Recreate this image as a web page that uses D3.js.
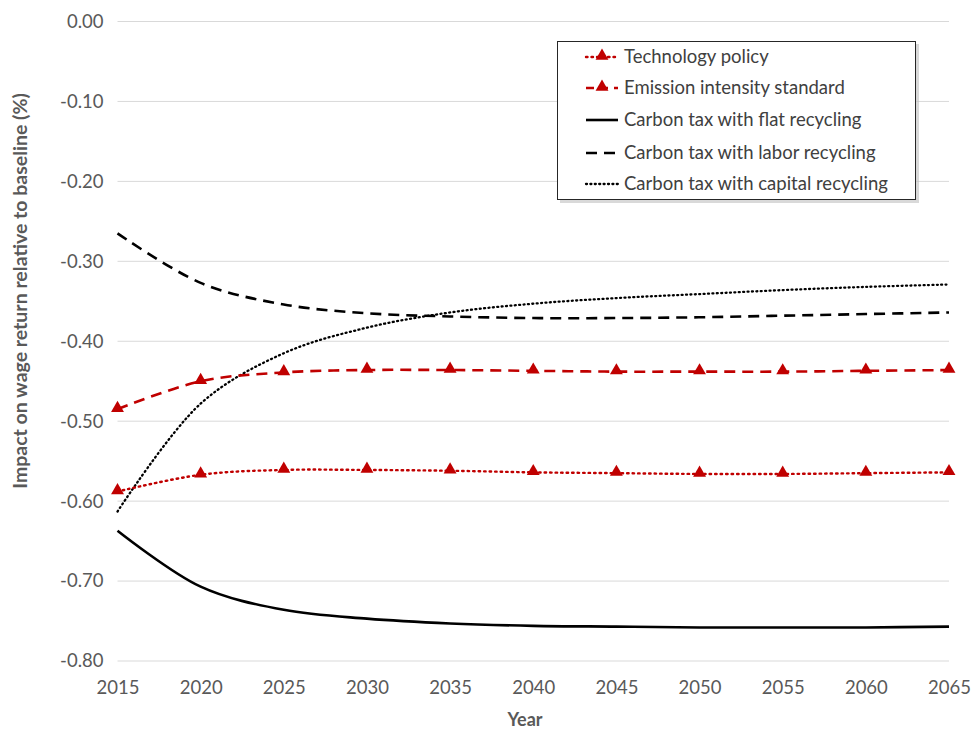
<!DOCTYPE html>
<html><head><meta charset="utf-8">
<script src="https://cdn.jsdelivr.net/npm/d3@7/dist/d3.min.js"></script>
<style>body{margin:0;background:#fff}</style>
</head><body>
<svg id="chart" width="972" height="730"></svg>
<script>
const years = [2015,2020,2025,2030,2035,2040,2045,2050,2055,2060,2065];
const techPolicy = [-0.588,-0.567,-0.561,-0.561,-0.562,-0.564,-0.565,-0.566,-0.566,-0.565,-0.564];
const emissionStd = [-0.485,-0.450,-0.439,-0.436,-0.436,-0.437,-0.438,-0.438,-0.438,-0.437,-0.436];
const flatRecycling = [-0.637,-0.707,-0.736,-0.747,-0.753,-0.756,-0.757,-0.758,-0.758,-0.758,-0.757];
const laborRecycling = [-0.265,-0.327,-0.354,-0.365,-0.369,-0.371,-0.371,-0.370,-0.368,-0.366,-0.364];
const capitalRecycling = [-0.613,-0.478,-0.415,-0.383,-0.364,-0.353,-0.346,-0.341,-0.336,-0.332,-0.329];
const yTicks = [0,-0.1,-0.2,-0.3,-0.4,-0.5,-0.6,-0.7,-0.8];
const seriesNames = ["Technology policy","Emission intensity standard","Carbon tax with flat recycling","Carbon tax with labor recycling","Carbon tax with capital recycling"];

const red = "#C00000";
const series = [
  {name: seriesNames[0], values: techPolicy, color: red, dash: "1.5,4", width: 2.4, marker: true, cap:"round"},
  {name: seriesNames[1], values: emissionStd, color: red, dash: "11,7", width: 2.6, marker: true, cap:"butt"},
  {name: seriesNames[2], values: flatRecycling, color: "#000", dash: null, width: 2.6, marker: false, cap:"butt"},
  {name: seriesNames[3], values: laborRecycling, color: "#000", dash: "11,7", width: 2.6, marker: false, cap:"butt"},
  {name: seriesNames[4], values: capitalRecycling, color: "#000", dash: "1,3.4", width: 2.3, marker: false, cap:"round"}
];

const svg = d3.select("#chart");
const font = "Lato, 'Open Sans', sans-serif";
const x = d3.scaleLinear().domain([2015,2065]).range([117.5,949]);
const y = d3.scaleLinear().domain([-0.8,0]).range([661,21.5]);

// gridlines
svg.append("g").selectAll("line").data(yTicks).join("line")
  .attr("x1", x(2015)).attr("x2", x(2065))
  .attr("y1", d=>y(d)).attr("y2", d=>y(d))
  .attr("stroke", "#d9d9d9").attr("stroke-width", 1);

// y axis labels
const yAxis = svg.append("g").attr("transform", `translate(${x(2015)},0)`)
  .call(d3.axisLeft(y).tickValues(yTicks).tickFormat(d => d.toFixed(2)).tickSize(0).tickPadding(14));
yAxis.select(".domain").remove();
yAxis.selectAll("text").attr("font-family", font).attr("font-size", 18.5).attr("fill", "#595959");

// x axis labels
const xAxis = svg.append("g").attr("transform", `translate(0,${y(-0.8)})`)
  .call(d3.axisBottom(x).tickValues(years).tickFormat(d3.format("d")).tickSize(0).tickPadding(20));
xAxis.select(".domain").remove();
xAxis.selectAll("text").attr("font-family", font).attr("font-size", 18.5).attr("fill", "#595959");

// axis titles
svg.append("text").attr("x", 525).attr("y", 726).attr("text-anchor","middle")
  .attr("font-family", font).attr("font-size", 18).attr("font-weight","bold").attr("fill","#595959").text("Year");
svg.append("text").attr("transform","translate(27,291) rotate(-90)").attr("text-anchor","middle")
  .attr("font-family", font).attr("font-size", 19.5).attr("font-weight","bold").attr("fill","#595959")
  .text("Impact on wage return relative to baseline (%)");

const line = d3.line().x((d,i)=>x(years[i])).y(d=>y(d)).curve(d3.curveCatmullRom.alpha(0.5));
const tri = d3.symbol().type(d3.symbolTriangle).size(72);

// draw in order so that red lines are on top
const order = [2,3,4,1,0];
order.forEach(k => {
  const s = series[k];
  svg.append("path").attr("d", line(s.values)).attr("fill","none")
    .attr("stroke", s.color).attr("stroke-width", s.width)
    .attr("stroke-dasharray", s.dash).attr("stroke-linecap", s.cap);
  if (s.marker) {
    svg.append("g").selectAll("path").data(s.values).join("path")
      .attr("d", tri).attr("transform", (d,i)=>`translate(${x(years[i])},${y(d)-1})`)
      .attr("fill", s.color);
  }
});

// legend
const lg = svg.append("g");
lg.append("rect").attr("x", 560).attr("y", 44).attr("width", 359).attr("height", 159).attr("fill","#bfbfbf").attr("opacity",0.6);
lg.append("rect").attr("x", 557.5).attr("y", 41.5).attr("width", 358).attr("height", 158).attr("fill","#fff").attr("stroke","#262626").attr("stroke-width",1);
const rowY = [57, 88, 120, 153, 184];
series.forEach((s,i) => {
  const g = lg.append("g").attr("transform", `translate(0,${rowY[i]})`);
  g.append("line").attr("x1", 586).attr("x2", 618).attr("y1", 0).attr("y2", 0)
    .attr("stroke", s.color).attr("stroke-width", s.width)
    .attr("stroke-dasharray", i===3 ? "11,7" : (i===1 ? "8,6" : s.dash)).attr("stroke-linecap", s.cap);
  if (s.marker) g.append("path").attr("d", tri).attr("transform","translate(602,-1)").attr("fill", s.color);
  g.append("text").attr("x", 624).attr("y", 0).attr("dy","0.35em")
    .attr("font-family", font).attr("font-size", 18.5).attr("fill","#404040").text(s.name);
});
</script>
</body></html>
